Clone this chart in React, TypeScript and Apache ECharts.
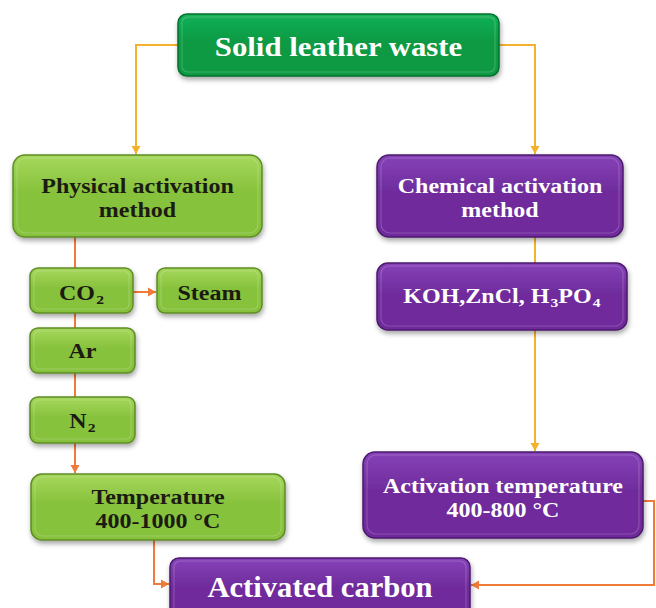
import React, { useEffect, useRef } from "react";
import * as echarts from "echarts";

// ---- content ----
const nodeIds = ["waste", "physical", "co2", "steam", "ar", "n2", "tempPhys", "chemical", "agents", "tempChem", "carbon"];
const nodeLines: string[][] = [
  ["Solid leather waste"],
  ["Physical activation", "method"],
  ["{m|CO}{s|2}"],
  ["Steam"],
  ["Ar"],
  ["{m|N}{s|2}"],
  ["Temperature", "400-1000 °C"],
  ["Chemical activation", "method"],
  ["{m|KOH,ZnCl, H}{s|3}{m|PO}{s|4}"],
  ["Activation temperature", "400-800 °C"],
  ["Activated carbon"],
];
const nodeKinds = ["root", "phys", "phys", "phys", "phys", "phys", "phys", "chem", "chem", "chem", "chem"];
const edgeFrom = ["waste", "waste", "physical", "co2", "co2", "ar", "n2", "chemical", "agents", "tempPhys", "tempChem"];
const edgeTo = ["physical", "chemical", "co2", "steam", "ar", "n2", "tempPhys", "agents", "tempChem", "carbon", "carbon"];
const edgeArrow = [true, true, false, true, false, false, true, false, true, true, true];

// ---- layout (positions / sizes) ----
const boxLayout: Record<string, { x: number; y: number; w: number; h: number; fs: number; sx: number; r: number; ty?: number }> = {
  waste: { x: 178, y: 14, w: 321, h: 62, fs: 28, sx: 1.1, r: 9, ty: 46 },
  physical: { x: 13, y: 155, w: 249, h: 82, fs: 20, sx: 1.2, r: 12, ty: 198 },
  co2: { x: 30, y: 268, w: 103, h: 45, fs: 20, sx: 1.2, r: 8, ty: 293 },
  steam: { x: 157, y: 268, w: 105, h: 45, fs: 20, sx: 1.2, r: 8, ty: 293 },
  ar: { x: 30, y: 328, w: 105, h: 45, fs: 20, sx: 1.2, r: 8, ty: 351 },
  n2: { x: 30, y: 397, w: 105, h: 46, fs: 20, sx: 1.2, r: 8, ty: 421 },
  tempPhys: { x: 31, y: 474, w: 254, h: 66, fs: 20, sx: 1.2, r: 11, ty: 509 },
  chemical: { x: 377, y: 155, w: 246, h: 82, fs: 20, sx: 1.2, r: 12, ty: 198 },
  agents: { x: 377, y: 263, w: 250, h: 67, fs: 20, sx: 1.2, r: 11, ty: 296 },
  tempChem: { x: 363, y: 452, w: 280, h: 86, fs: 20, sx: 1.2, r: 12, ty: 498 },
  carbon: { x: 170, y: 558, w: 300, h: 64, fs: 30, sx: 1.02, r: 9, ty: 587 },
};
const edgeRoutes: number[][][] = [
  [[178, 45], [136, 45], [136, 154]],
  [[499, 45], [535, 45], [535, 154]],
  [[75, 237], [75, 268]],
  [[133, 292], [156, 292]],
  [[75, 313], [75, 328]],
  [[75, 373], [75, 397]],
  [[75, 443], [75, 473]],
  [[535, 237], [535, 263]],
  [[535, 330], [535, 451]],
  [[154, 540], [154, 584], [169, 584]],
  [[643, 501], [654, 501], [654, 585], [471, 585]],
];
const edgeColors = ["#f6b12c", "#f6b12c", "#ee7b3a", "#ee7b3a", "#ee7b3a", "#ee7b3a", "#ee7b3a", "#f6b12c", "#f6b12c", "#ee7b3a", "#ee7b3a"];

const kindStyle: Record<string, { top: string; bottom: string; stroke: string; text: string }> = {
  root: { top: "#14b158", bottom: "#089a43", stroke: "#05702f", text: "#ffffff" },
  phys: { top: "#a6d85c", bottom: "#87c23c", stroke: "#5e8c26", text: "#1b1b12" },
  chem: { top: "#8642b8", bottom: "#6f2c9c", stroke: "#4a1a6c", text: "#ffffff" },
};

function arrowHead(p: number[], q: number[], color: string) {
  const dx = q[0] - p[0];
  const dy = q[1] - p[1];
  const len = Math.hypot(dx, dy) || 1;
  const ux = dx / len, uy = dy / len;
  const L = 8, W = 4.5;
  const bx = q[0] - ux * L, by = q[1] - uy * L;
  return {
    type: "polygon",
    shape: { points: [[q[0], q[1]], [bx - uy * W, by + ux * W], [bx + uy * W, by - ux * W]] },
    style: { fill: color },
    z: 3,
  };
}

export default function App() {
  const ref = useRef<HTMLDivElement>(null);
  useEffect(() => {
    if (!ref.current) return;
    const chart = echarts.init(ref.current, null, { renderer: "svg" });
    const elements: any[] = [];

    edgeFrom.forEach((_, i) => {
      const pts = edgeRoutes[i];
      const color = edgeColors[i];
      elements.push({
        type: "polyline",
        shape: { points: pts },
        style: { stroke: color, lineWidth: 2, fill: null },
        z: 2,
      });
      if (edgeArrow[i]) elements.push(arrowHead(pts[pts.length - 2], pts[pts.length - 1], color));
    });

    nodeIds.forEach((id, i) => {
      const b = boxLayout[id];
      const ks = kindStyle[nodeKinds[i]];
      const lines = nodeLines[i];
      const lh = Math.round(b.fs * 1.2);
      elements.push({
        type: "rect",
        shape: { x: b.x, y: b.y, width: b.w, height: b.h, r: b.r },
        style: {
          fill: new echarts.graphic.LinearGradient(0, 0, 0, 1, [
            { offset: 0, color: ks.top },
            { offset: 0.45, color: ks.bottom },
            { offset: 1, color: ks.bottom },
          ]),
          stroke: ks.stroke,
          lineWidth: 1.5,
          shadowBlur: 5,
          shadowOffsetX: 1,
          shadowOffsetY: 3,
          shadowColor: "rgba(0,0,0,0.35)",
        },
        z: 4,
      });
      elements.push({
        type: "rect",
        shape: { x: b.x + 4, y: b.y + 3, width: b.w - 8, height: b.h - 7, r: Math.max(b.r - 3, 3) },
        style: { fill: "none", stroke: "rgba(255,255,255,0.18)", lineWidth: 1.2 },
        z: 5,
      });
      elements.push({
        type: "text",
        x: b.x + b.w / 2,
        y: b.ty !== undefined ? b.ty : b.y + b.h / 2,
        scaleX: b.sx,
        style: {
          text: lines.join("\n"),
          fill: ks.text,
          fontSize: b.fs,
          fontWeight: "bold",
          fontFamily: "Liberation Serif",
          align: "center",
          verticalAlign: "middle",
          lineHeight: lh,
          rich: {
            m: { fontSize: b.fs, fontWeight: "bold", fontFamily: "Liberation Serif", fill: ks.text, lineHeight: 26 },
            s: { fontSize: 13, fontWeight: "bold", fontFamily: "Liberation Serif", fill: ks.text, lineHeight: 13, verticalAlign: "bottom", padding: [0, 0, 0, 1] },
          },
        },
        z: 6,
      });
    });

    chart.setOption({
      animation: false,
      backgroundColor: "#ffffff",
      graphic: { elements },
    });
    return () => chart.dispose();
  }, []);
  return (
    <div
      ref={ref}
      style={{ position: "fixed", left: 0, top: 0, width: 656, height: 608 }}
    />
  );
}
